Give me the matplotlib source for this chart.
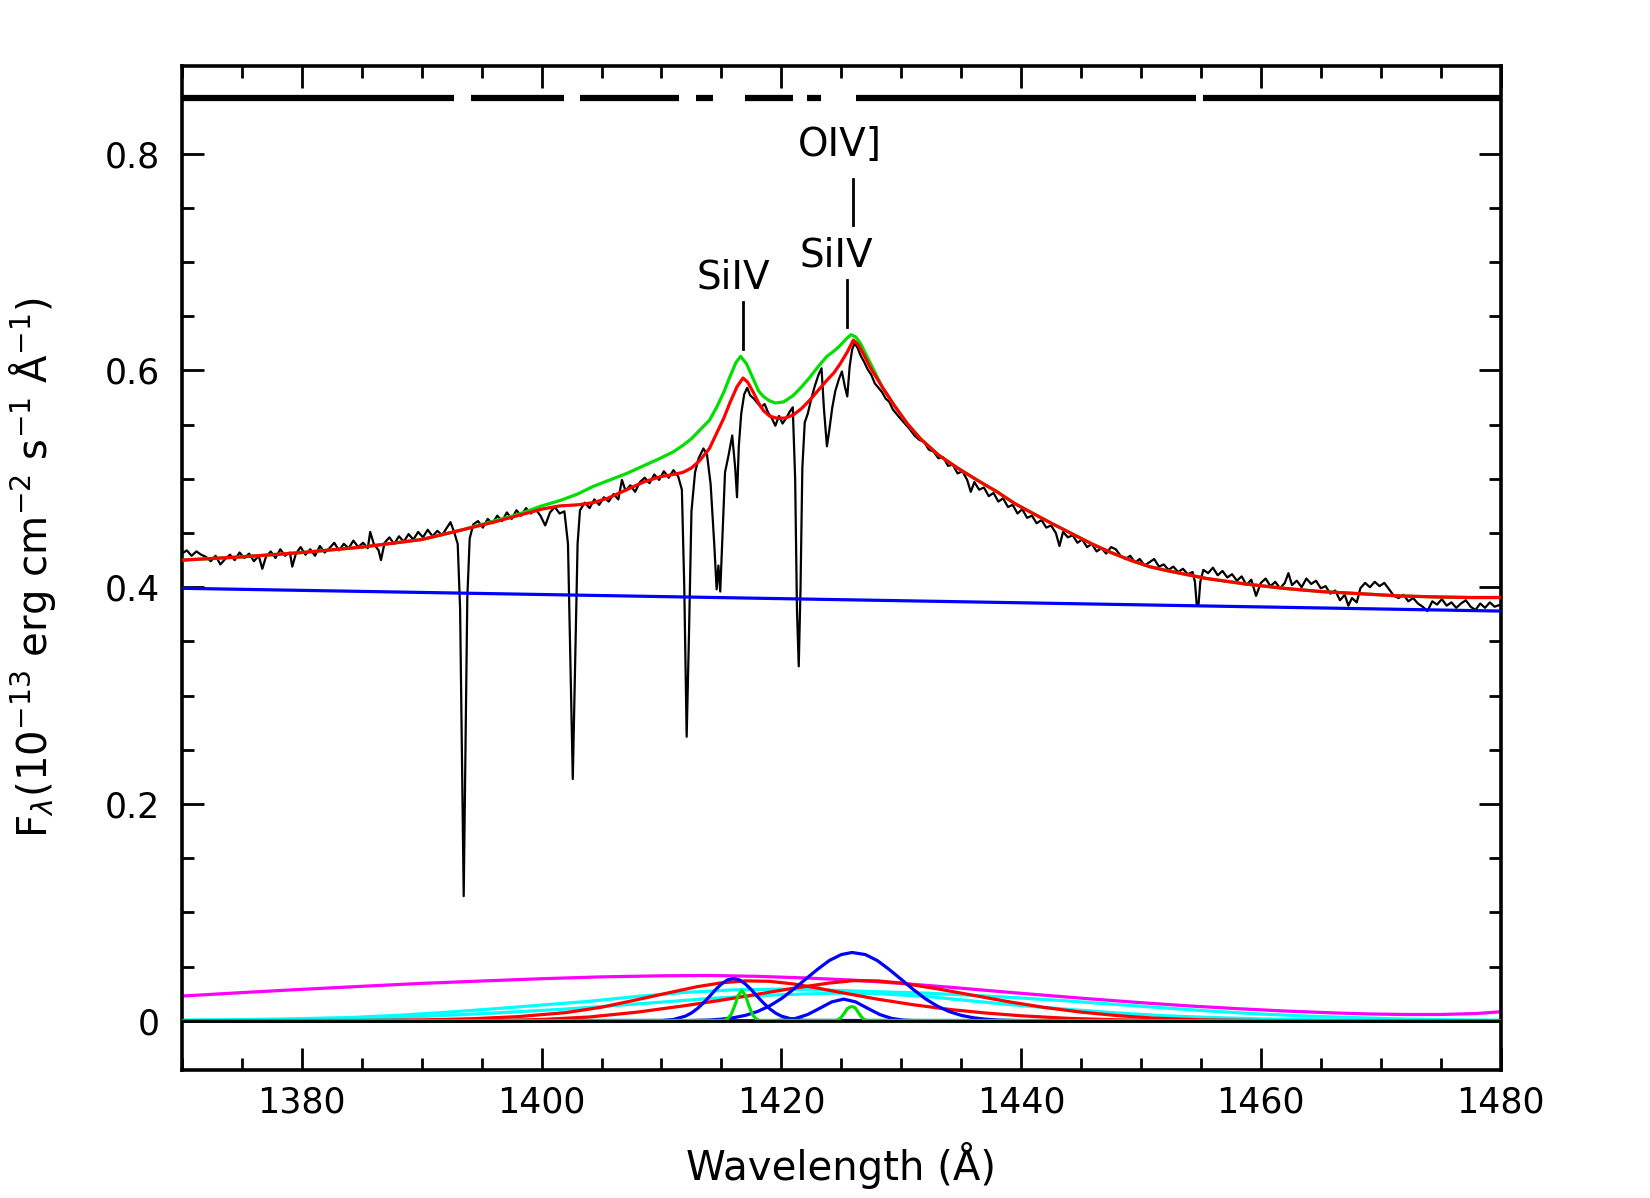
import matplotlib
matplotlib.use("Agg")
import matplotlib.pyplot as plt
import numpy as np
from matplotlib.ticker import MultipleLocator, FixedLocator, FixedFormatter

# ---------------- data ----------------
spec_wave = [
1370.0,1370.4,1370.8,1371.2,1371.6,1372.0,1372.4,1372.8,1373.2,1373.6,1374.0,1374.4,1374.8,1375.2,1375.6,1376.0,1376.4,1376.7,1377.0,1377.4,
1377.8,1378.2,1378.6,1379.0,1379.2,1379.5,1379.9,1380.3,1380.7,1381.1,1381.5,1381.9,1382.3,1382.7,1383.1,1383.5,1383.9,1384.3,1384.7,1385.1,
1385.5,1385.7,1386.0,1386.4,1386.6,1386.9,1387.3,1387.7,1388.1,1388.5,1388.9,1389.3,1389.7,1390.1,1390.5,1390.9,1391.3,1391.7,1392.1,1392.4,
1392.7,1393.0,1393.2,1393.35,1393.5,1393.65,1393.8,1394.0,1394.3,1394.7,1395.1,1395.5,1395.9,1396.3,1396.7,1397.1,1397.5,1397.9,1398.3,1398.7,
1399.1,1399.5,1399.9,1400.3,1400.7,1401.1,1401.5,1401.9,1402.2,1402.4,1402.6,1402.8,1403.0,1403.2,1403.6,1404.0,1404.4,1404.8,1405.2,1405.6,
1406.0,1406.4,1406.7,1407.0,1407.4,1407.8,1408.2,1408.6,1409.0,1409.4,1409.8,1410.2,1410.6,1411.0,1411.4,1411.7,1411.9,1412.1,1412.3,1412.5,
1412.8,1413.1,1413.5,1413.8,1414.1,1414.4,1414.6,1414.75,1414.9,1415.1,1415.3,1415.6,1415.9,1416.15,1416.3,1416.45,1416.65,1416.9,1417.15,1417.4,
1417.7,1418.0,1418.3,1418.6,1418.9,1419.2,1419.5,1419.8,1420.1,1420.4,1420.7,1420.95,1421.15,1421.3,1421.45,1421.6,1421.75,1421.95,1422.2,1422.5,
1422.8,1423.1,1423.35,1423.55,1423.8,1424.0,1424.25,1424.5,1424.8,1425.05,1425.3,1425.5,1425.7,1425.9,1426.1,1426.35,1426.6,1426.9,1427.2,1427.5,
1427.8,1428.1,1428.4,1428.7,1429.0,1429.3,1429.6,1429.9,1430.3,1430.7,1431.1,1431.5,1431.9,1432.3,1432.7,1433.1,1433.5,1433.9,1434.3,1434.7,
1435.1,1435.5,1435.8,1436.1,1436.5,1436.9,1437.3,1437.7,1438.1,1438.5,1438.9,1439.3,1439.7,1440.1,1440.5,1440.9,1441.3,1441.7,1442.1,1442.5,
1442.9,1443.2,1443.5,1443.9,1444.3,1444.7,1445.1,1445.5,1445.9,1446.3,1446.7,1447.1,1447.5,1447.9,1448.3,1448.7,1449.1,1449.5,1449.9,1450.3,
1450.7,1451.1,1451.5,1451.9,1452.3,1452.7,1453.1,1453.5,1453.9,1454.3,1454.5,1454.65,1454.8,1454.95,1455.2,1455.6,1456.0,1456.4,1456.8,1457.2,
1457.6,1458.0,1458.4,1458.8,1459.2,1459.6,1460.0,1460.4,1460.8,1461.2,1461.6,1462.0,1462.3,1462.6,1463.0,1463.4,1463.8,1464.2,1464.6,1465.0,
1465.4,1465.8,1466.2,1466.6,1467.0,1467.3,1467.6,1468.0,1468.3,1468.7,1469.1,1469.5,1469.9,1470.3,1470.7,1471.1,1471.5,1471.9,1472.3,1472.7,
1473.1,1473.5,1473.9,1474.3,1474.7,1475.1,1475.5,1475.9,1476.3,1476.7,1477.1,1477.5,1477.9,1478.3,1478.7,1479.1,1479.5,1480.0]
spec_flux = [
0.431,0.434,0.429,0.433,0.430,0.428,0.424,0.429,0.421,0.426,0.430,0.425,0.432,0.427,0.431,0.424,0.429,0.417,0.428,0.433,
0.427,0.435,0.429,0.432,0.419,0.431,0.437,0.430,0.435,0.429,0.438,0.432,0.436,0.441,0.434,0.440,0.436,0.443,0.437,0.441,
0.436,0.451,0.440,0.434,0.425,0.441,0.446,0.440,0.447,0.442,0.449,0.444,0.451,0.446,0.453,0.447,0.452,0.448,0.455,0.460,
0.451,0.440,0.380,0.250,0.115,0.250,0.390,0.445,0.458,0.461,0.455,0.463,0.459,0.466,0.461,0.469,0.463,0.471,0.466,0.473,
0.468,0.472,0.466,0.457,0.469,0.474,0.468,0.470,0.440,0.330,0.223,0.330,0.440,0.471,0.478,0.473,0.481,0.476,0.483,0.479,
0.486,0.481,0.499,0.489,0.494,0.488,0.497,0.501,0.496,0.504,0.499,0.507,0.501,0.508,0.502,0.490,0.400,0.262,0.360,0.470,
0.506,0.519,0.528,0.522,0.495,0.440,0.398,0.420,0.396,0.450,0.506,0.522,0.540,0.510,0.483,0.530,0.560,0.578,0.584,0.577,
0.574,0.570,0.566,0.569,0.561,0.556,0.549,0.558,0.551,0.556,0.562,0.566,0.500,0.380,0.327,0.400,0.510,0.552,0.560,0.574,
0.586,0.596,0.602,0.565,0.530,0.545,0.566,0.581,0.592,0.599,0.585,0.576,0.604,0.619,0.625,0.621,0.614,0.608,0.601,0.596,
0.588,0.584,0.580,0.574,0.571,0.564,0.560,0.556,0.551,0.546,0.540,0.536,0.534,0.527,0.525,0.519,0.520,0.512,0.513,0.505,
0.507,0.499,0.488,0.497,0.490,0.492,0.484,0.487,0.479,0.482,0.474,0.476,0.468,0.472,0.464,0.466,0.459,0.462,0.455,0.457,
0.450,0.438,0.451,0.446,0.448,0.441,0.444,0.437,0.440,0.433,0.436,0.431,0.437,0.435,0.429,0.426,0.429,0.423,0.426,0.420,
0.423,0.426,0.419,0.421,0.416,0.419,0.414,0.417,0.412,0.414,0.405,0.384,0.384,0.405,0.416,0.413,0.418,0.411,0.415,0.409,
0.412,0.406,0.410,0.402,0.407,0.392,0.404,0.408,0.401,0.405,0.399,0.404,0.413,0.402,0.406,0.400,0.408,0.403,0.406,0.399,
0.401,0.394,0.397,0.388,0.393,0.383,0.390,0.386,0.399,0.404,0.400,0.405,0.401,0.404,0.398,0.392,0.390,0.393,0.387,0.390,
0.385,0.382,0.378,0.387,0.384,0.389,0.383,0.386,0.381,0.385,0.388,0.382,0.379,0.385,0.381,0.386,0.382,0.384]

# total (absorbed) model - red
model_wave = [1370,1375,1380,1385,1390,1393.4,1396,1398,1400,1401.5,1403,1404.3,1405.5,1407.1,1408.5,1409.9,1411,1411.8,1412.5,1413.2,
              1414,1414.6,1415.2,1415.7,1416.3,1416.8,1417.2,1417.7,1418.1,1418.5,1419,1419.6,1420.3,1421,1421.7,1422.4,1423.1,1423.8,1424.4,1424.9,
              1425.5,1426.0,1426.4,1426.9,1427.4,1428.4,1429.4,1430.5,1431.6,1433.1,1434.7,1436.3,1438,1439.5,1441,1442.7,1444.3,1445.9,1447.5,1449.1,
              1450.7,1452.3,1455.5,1458.7,1461.9,1465,1468.3,1471.5,1474.7,1477.5,1480]
model_flux = [0.425,0.428,0.432,0.437,0.444,0.453,0.460,0.466,0.472,0.475,0.476,0.478,0.482,0.490,0.497,0.502,0.504,0.506,0.510,0.517,
              0.528,0.542,0.556,0.570,0.585,0.593,0.589,0.579,0.570,0.563,0.558,0.556,0.556,0.559,0.565,0.573,0.582,0.591,0.598,0.606,
              0.617,0.628,0.624,0.614,0.603,0.585,0.568,0.551,0.537,0.522,0.510,0.499,0.488,0.477,0.468,0.458,0.449,0.440,0.432,0.425,
              0.419,0.415,0.408,0.403,0.399,0.396,0.394,0.392,0.391,0.3905,0.3905]

# unabsorbed model - green
unabs_wave = [1370,1375,1380,1385,1390,1393.4,1396,1398,1400,1401.55,1403,1404.3,1405.7,1407.1,1408.5,1409.9,1411,1411.8,1412.5,1413.2,
              1414,1414.6,1415.2,1415.7,1416.2,1416.6,1417.1,1417.7,1418.1,1418.5,1419,1419.5,1420.2,1421,1421.7,1422.4,1423.1,1423.8,1424.4,1424.9,
              1425.4,1425.8,1426.2,1426.6,1427.0,1427.5,1428.4,1429.4,1430.5,1431.6,1433.1,1434.7,1436.3,1438,1439.5,1441,1442.7,1444.3,1445.9,1447.5,
              1449.1,1450.7,1452.3,1455.5,1458.7,1461.9,1465,1468.3,1471.5,1474.7,1477.5,1480]
unabs_flux = [0.425,0.428,0.432,0.437,0.444,0.453,0.461,0.467,0.475,0.480,0.486,0.493,0.499,0.505,0.512,0.519,0.525,0.531,0.537,0.545,
              0.554,0.566,0.580,0.594,0.607,0.613,0.606,0.591,0.581,0.576,0.572,0.570,0.571,0.577,0.585,0.594,0.604,0.613,0.618,0.623,
              0.629,0.633,0.631,0.625,0.616,0.605,0.585,0.568,0.551,0.537,0.522,0.510,0.499,0.488,0.477,0.468,0.458,0.449,0.440,0.432,
              0.425,0.419,0.415,0.408,0.403,0.399,0.396,0.394,0.392,0.391,0.3905,0.3905]

# power-law continuum - blue
cont_wave = [1370, 1480]
cont_flux = [0.399, 0.378]

# broad component - magenta
mag_wave = [1370,1375,1380,1385,1390,1395,1400,1405,1410,1414,1418,1422,1426,1430,1434,1438,1442,1446,1450,1454,1458,1462,1466,1469,1472,1475,1478,1480]
mag_flux = [0.0228,0.0260,0.0290,0.0318,0.0345,0.0367,0.0388,0.0405,0.0415,0.0418,0.0410,0.0395,0.0375,0.0345,0.0310,0.0272,0.0235,0.0200,0.0167,0.0137,0.0112,0.0090,0.0073,0.0063,0.0058,0.0058,0.0067,0.0083]

# cyan components
cy1_wave = [1370,1376,1380,1384,1388,1392,1396,1400,1404,1408,1412,1416,1420,1424,1428,1432,1436,1440,1444,1448,1452,1456,1460,1464,1468,1472,1476,1480]
cy1_flux = [0.0006,0.0012,0.0020,0.0030,0.0050,0.0078,0.0110,0.0145,0.0180,0.0225,0.0262,0.0285,0.0292,0.0282,0.0268,0.0255,0.0235,0.0210,0.0182,0.0150,0.0118,0.0088,0.0062,0.0043,0.0028,0.0016,0.0009,0.0005]
cy2_wave = [1370,1380,1386,1390,1394,1398,1402,1406,1410,1414,1418,1422,1425,1428,1432,1436,1440,1444,1448,1452,1456,1460,1466,1472,1480]
cy2_flux = [0.0002,0.0008,0.0020,0.0040,0.0060,0.0083,0.0108,0.0140,0.0172,0.0205,0.0232,0.0248,0.0255,0.0250,0.0225,0.0182,0.0140,0.0105,0.0072,0.0046,0.0030,0.0017,0.0007,0.0003,0.0001]

# red components
rA_wave = [1370,1385,1390,1394,1398,1402,1405,1408,1411,1413,1415,1417,1419,1421,1423,1425,1428,1431,1434,1437,1440,1444,1448,1452,1458,1480]
rA_flux = [0.0,0.0003,0.0008,0.0018,0.0038,0.0075,0.0125,0.0195,0.0268,0.0315,0.0350,0.0368,0.0364,0.0340,0.0302,0.0260,0.0200,0.0148,0.0105,0.0072,0.0046,0.0022,0.0009,0.0003,0.0,0.0]
rB_wave = [1370,1395,1400,1404,1408,1412,1415,1418,1421,1424,1426,1428,1430,1433,1436,1439,1442,1445,1448,1451,1455,1460,1480]
rB_flux = [0.0,0.0,0.0012,0.0035,0.0080,0.0140,0.0190,0.0245,0.0300,0.0348,0.0370,0.0368,0.0348,0.0295,0.0235,0.0175,0.0122,0.0080,0.0048,0.0025,0.0009,0.0002,0.0]

# blue components
bA_wave = [1370,1410,1411,1412,1412.5,1413,1413.5,1414,1414.5,1415,1415.5,1416,1416.5,1417,1417.5,1418,1418.5,1419,1419.5,1420,1421,1422,1480]
bA_flux = [0.0,0.0003,0.0012,0.0043,0.0072,0.0113,0.0165,0.0224,0.0286,0.0339,0.0377,0.0390,0.0377,0.0339,0.0286,0.0224,0.0165,0.0113,0.0072,0.0043,0.0012,0.0003,0.0]
bB_wave = [1370,1412,1414,1415,1416,1417,1418,1419,1420,1421,1422,1423,1424,1425,1425.9,1427,1428,1429,1430,1431,1432,1433,1434,1435,1436,1437,1438,1440,1480]
bB_flux = [0.0,0.0001,0.0007,0.0015,0.0028,0.0050,0.0085,0.0136,0.0204,0.0289,0.0382,0.0473,0.0556,0.0611,0.0630,0.0611,0.0556,0.0473,0.0382,0.0289,0.0204,0.0136,0.0085,0.0050,0.0028,0.0015,0.0007,0.0001,0.0]
bC_wave = [1370,1419.2,1420.2,1421.2,1422.2,1423.2,1424.2,1425.2,1426.2,1427.2,1428.2,1429.2,1430.2,1431.2,1480]
bC_flux = [0.0,0.0001,0.0006,0.0022,0.0058,0.0115,0.0174,0.0200,0.0174,0.0115,0.0058,0.0022,0.0006,0.0001,0.0]

# green narrow components
gn_wave = [1370,1415.2,1415.5,1415.8,1416.1,1416.4,1416.7,1417.0,1417.3,1417.6,1417.9,1418.2,
           1424.5,1424.75,1425.0,1425.25,1425.5,1425.75,1425.95,1426.15,1426.4,1426.65,1426.9,1427.2,1480]
gn_flux = [0.0,0.0003,0.0016,0.0056,0.0136,0.0234,0.0280,0.0234,0.0136,0.0056,0.0016,0.0003,
           0.0003,0.0011,0.0033,0.0070,0.0112,0.0128,0.0130,0.0120,0.0080,0.0040,0.0012,0.0003,0.0]

# wavelength ranges used in the fit (top bar)
fit_start = [1370.0, 1394.1, 1403.2, 1412.9, 1417.0, 1422.1, 1426.2, 1455.2]
fit_end   = [1392.7, 1401.9, 1411.5, 1414.3, 1421.0, 1423.3, 1454.6, 1480.0]
fit_level = 0.851

# line identifications
id_text  = ["SiIV", "SiIV", "OIV]"]
id_wave  = [1416.0, 1424.6, 1424.9]
id_y     = [0.686, 0.706, 0.808]
id_tick_wave = [1416.8, 1425.5, 1425.95]
id_tick_y0   = [0.620, 0.640, 0.734]
id_tick_y1   = [0.663, 0.683, 0.777]

xticks = [1380, 1400, 1420, 1440, 1460, 1480]
xtick_labels = ["1380", "1400", "1420", "1440", "1460", "1480"]
yticks = [0.0, 0.2, 0.4, 0.6, 0.8]
ytick_labels = ["0", "0.2", "0.4", "0.6", "0.8"]

# ---------------- plotting ----------------
plt.rcParams['font.family'] = ['DejaVu Sans']
plt.rcParams['mathtext.fontset'] = 'dejavusans'

fig = plt.figure(figsize=(16.5, 11.98), dpi=100)
ax = fig.add_axes([182/1650, 1 - 1070.2/1198, (1500.6-182)/1650, (1070.2-66.3)/1198])

CRED = '#ff0000'
CGRN = '#00e000'
CBLU = '#0000ff'
CCYA = '#00ffff'
CMAG = '#ff00ff'

# bottom components
ax.plot(mag_wave, mag_flux, color=CMAG, lw=2.3, zorder=2)
ax.plot(cy1_wave, cy1_flux, color=CCYA, lw=2.3, zorder=2)
ax.plot(cy2_wave, cy2_flux, color=CCYA, lw=2.3, zorder=2)
ax.plot(rA_wave, rA_flux, color=CRED, lw=2.3, zorder=3)
ax.plot(rB_wave, rB_flux, color=CRED, lw=2.3, zorder=3)
ax.plot(bA_wave, bA_flux, color=CBLU, lw=2.3, zorder=4)
ax.plot(bB_wave, bB_flux, color=CBLU, lw=2.3, zorder=4)
ax.plot(bC_wave, bC_flux, color=CBLU, lw=2.3, zorder=4)
ax.plot(gn_wave, gn_flux, color=CGRN, lw=2.3, zorder=5)
ax.axhline(0.0, color='black', lw=2.0, zorder=6)

# spectrum and models
ax.plot(spec_wave, spec_flux, color='black', lw=1.6, zorder=7)
ax.plot(unabs_wave, unabs_flux, color=CGRN, lw=2.3, zorder=8)
ax.plot(model_wave, model_flux, color=CRED, lw=2.3, zorder=9)
ax.plot(cont_wave, cont_flux, color=CBLU, lw=2.3, zorder=10)

# fit ranges
ax.hlines([fit_level]*len(fit_start), fit_start, fit_end, color='black', lw=4.5, zorder=10)

# identifications
for t, xw, yy, tw, t0, t1 in zip(id_text, id_wave, id_y, id_tick_wave, id_tick_y0, id_tick_y1):
    ax.text(xw, yy, t, ha='center', va='center', fontsize=28, zorder=11)
    ax.plot([tw, tw], [t0, t1], color='black', lw=2.0, zorder=11)

ax.set_xlim(1370, 1480)
ax.set_ylim(-0.0456, 0.8806)

ax.xaxis.set_major_locator(FixedLocator(xticks))
ax.xaxis.set_major_formatter(FixedFormatter(xtick_labels))
ax.xaxis.set_minor_locator(MultipleLocator(5))
ax.yaxis.set_major_locator(FixedLocator(yticks))
ax.yaxis.set_major_formatter(FixedFormatter(ytick_labels))
ax.yaxis.set_minor_locator(MultipleLocator(0.05))

ax.tick_params(which='both', direction='in', top=True, right=True, width=2.0, labelsize=25)
ax.tick_params(which='major', length=16)
ax.tick_params(which='minor', length=8.5)
ax.tick_params(axis='x', pad=11)
ax.tick_params(axis='y', pad=16)
for sp in ax.spines.values():
    sp.set_linewidth(2.6)

ax.set_xlabel('Wavelength (Å)', fontsize=29)
ax.set_ylabel(r'F$_\lambda$(10$^{-13}$ erg cm$^{-2}$ s$^{-1}$ Å$^{-1}$)', fontsize=29)
ax.xaxis.set_label_coords(0.5, -0.072)
ax.yaxis.set_label_coords(-0.094, 0.5)

fig.savefig('out.png', dpi=100)
